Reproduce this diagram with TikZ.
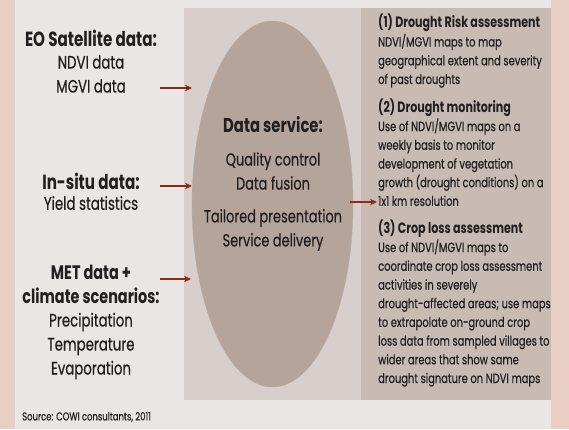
\documentclass[tikz,border=0pt]{standalone}
\usepackage{fontspec}
\setmainfont{Poppins}[FakeStretch=0.74, UprightFeatures={FakeBold=0.5}]
\usetikzlibrary{arrows.meta,shapes.geometric}
\definecolor{salmon}{HTML}{E8CEC3}
\definecolor{pagebg}{HTML}{EAE6E3}
\definecolor{midpanel}{HTML}{D8CFCC}
\definecolor{rightpanel}{HTML}{C7BBB4}
\definecolor{ellfill}{HTML}{B4A49C}
\definecolor{arrowred}{HTML}{8E2A18}
\definecolor{txt}{HTML}{231F20}
\newcommand{\rhead}[1]{{\fontsize{15}{18.7}\selectfont\bfseries #1}}
\tikzset{
  inhead/.style={font=\fontsize{20.5}{23}\selectfont\bfseries, text=txt, align=center, inner sep=0pt},
  inbody/.style={font=\fontsize{18}{24}\selectfont, text=txt, align=center, inner sep=0pt},
  rtext/.style={font=\fontsize{13.4}{18.7}\selectfont, text=txt, align=left, anchor=north west, inner sep=0pt},
  conn/.style={draw=arrowred, line width=1.2pt, -{Stealth[length=7pt,width=6.5pt,inset=2pt]}},
}
\begin{document}
\begin{tikzpicture}[x=1pt,y=-1pt]
\useasboundingbox (0,0) rectangle (569,429);
\fill[salmon] (0,0) rectangle (569,429);
\fill[pagebg] (15,0) rectangle (551,429);
\fill[midpanel] (184,8) rectangle (361,400);
\fill[rightpanel] (361,8) rectangle (551,400);
\node[ellipse, fill=ellfill, draw=ellfill!90!white, minimum width=161pt, minimum height=366pt, inner sep=0pt] (svc) at (272.5,204) {};
% left inputs
\node[inhead] (eoh) at (91,38) {EO Satellite data:};
\node[inbody] (eob) at (91,74) {NDVI data\\MGVI data};
\node[inhead] (ish) at (91,181) {In-situ data:};
\node[inbody] (isb) at (91,203) {Yield statistics};
\node[inhead, font=\fontsize{19.5}{24}\selectfont\bfseries] (meth) at (91,284) {MET data +\\climate scenarios:};
\node[inbody] (metb) at (91,346) {Precipitation\\Temperature\\Evaporation};
\node[anchor=west, font=\fontsize{11.4}{12}\selectfont, text=txt, inner sep=0pt] (src) at (22,417) {Source: COWI consultants, 2011};
% ellipse text
\node[inhead, font=\fontsize{20}{23}\selectfont\bfseries] (dsh) at (273,125) {Data service:};
\node[inbody, font=\fontsize{17.5}{24}\selectfont] (dsb1) at (273,171) {Quality control\\Data fusion};
\node[inbody, font=\fontsize{17.5}{24}\selectfont] (dsb2) at (273,230) {Tailored presentation\\Service delivery};
% right text
\node[rtext] (r1) at (378,14) {\rhead{(1) Drought Risk assessment}\\NDVI/MGVI maps to map\\geographical extent and severity\\of past droughts};
\node[rtext] (r2) at (378,98.5) {\rhead{(2) Drought monitoring}\\Use of NDVI/MGVI maps on a\\weekly basis to monitor\\development of vegetation\\growth (drought conditions) on a\\1x1 km resolution};
\node[rtext] (r3) at (378,219.5) {\rhead{(3) Crop loss assessment}\\Use of NDVI/MGVI maps to\\coordinate crop loss assessment\\activities in severely\\drought-affected areas; use maps\\to extrapolate on-ground crop\\loss data from sampled villages to\\wider areas that show same\\drought signature on NDVI maps};
% arrows
\coordinate (a1s) at (160,88); \coordinate (a1e) at (192,88);
\coordinate (a2s) at (160,186); \coordinate (a2e) at (192,186);
\coordinate (a3s) at (160,279); \coordinate (a3e) at (191,279);
\coordinate (a4s) at (350,202); \coordinate (a4e) at (377,202);
\draw[conn] (a1s) -- (a1e);
\draw[conn] (a2s) -- (a2e);
\draw[conn] (a3s) -- (a3e);
\draw[conn] (a4s) -- (a4e);
\end{tikzpicture}
\end{document}
